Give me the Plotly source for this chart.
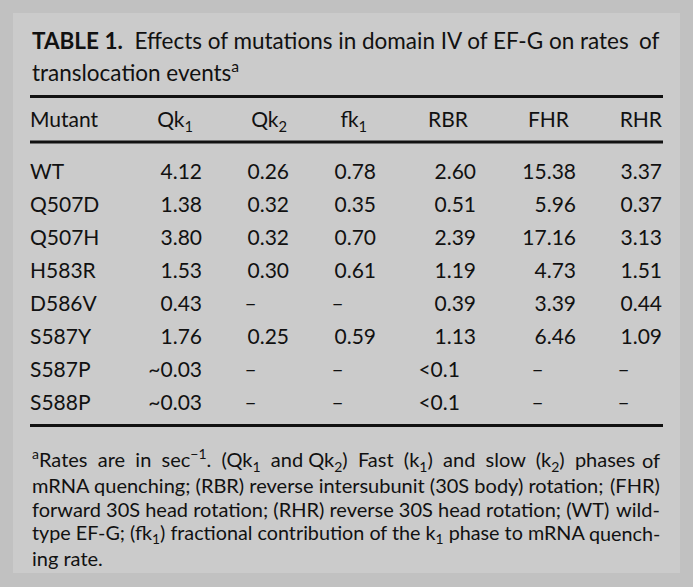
import plotly.graph_objects as go

# ---------------- data ----------------
mutants = ["WT", "Q507D", "Q507H", "H583R", "D586V", "S587Y", "S587P", "S588P"]
qk1 = ["4.12", "1.38", "3.80", "1.53", "0.43", "1.76", "~0.03", "~0.03"]
qk2 = ["0.26", "0.32", "0.32", "0.30", "–", "0.25", "–", "–"]
fk1 = ["0.78", "0.35", "0.70", "0.61", "–", "0.59", "–", "–"]
rbr = ["2.60", "0.51", "2.39", "1.19", "0.39", "1.13", "<0.1", "<0.1"]
fhr = ["15.38", "5.96", "17.16", "4.73", "3.39", "6.46", "–", "–"]
rhr = ["3.37", "0.37", "3.13", "1.51", "0.44", "1.09", "–", "–"]
headers = ["Mutant", "Qk<sub>1</sub>", "Qk<sub>2</sub>", "fk<sub>1</sub>", "RBR", "FHR", "RHR"]

title_bold = "TABLE 1."
title_lines = [
    "Effects of mutations in domain IV of EF-G on rates of",
    "translocation events<sup>a</sup>",
]
footnote_lines = [
    "<sup>a</sup>Rates are in sec<sup>−1</sup>. (Qk<sub>1</sub> and Qk<sub>2</sub>) Fast (k<sub>1</sub>) and slow (k<sub>2</sub>) phases of",
    "mRNA quenching; (RBR) reverse intersubunit (30S body) rotation; (FHR)",
    "forward 30S head rotation; (RHR) reverse 30S head rotation; (WT) wild-",
    "type EF-G; (fk<sub>1</sub>) fractional contribution of the k<sub>1</sub> phase to mRNA quench-",
    "ing rate.",
]

# ---------------- style / layout ----------------
W, H = 693, 587
FONT = "Lato, 'Open Sans', sans-serif"
INK = "#111111"
OUTER = "#c1c1c1"
PANEL = "#cbcbcb"
NB = "\u00a0"
LEFT, RIGHT = 30, 662
FS = 21

# table geometry (pixels): first body row, row pitch, header row
ROW0, PITCH, HEAD_Y = 174, 32.9, 122
# column anchors (pixel x) and alignment for the body and for the header
col_x = [30, 202, 289, 376, 476, 576, 662]
head_x = [30, 193, 287, 367, 468, 569, 662]
col_align = ["left", "right", "right", "right", "right", "right", "right"]


def px(x):
    return x / W


def py(y):
    return 1 - y / H


def decimal_pad(col):
    """right-aligned column: pad so decimal points line up; dashes sit left"""
    decs = [len(v.split(".")[1]) for v in col if "." in v]
    mx = max(decs) if decs else 0
    out = []
    for v in col:
        if "." in v:
            out.append(v + NB * 3 * (mx - len(v.split(".")[1])))
        else:
            out.append(v + NB * 6)
    return out


columns = [mutants, qk1, qk2, fk1, rbr, fhr, rhr]
rows = list(range(len(mutants)))
head_row = (HEAD_Y - ROW0) / PITCH

fig = go.Figure()
for j, col in enumerate(columns):
    texts = col if j == 0 else decimal_pad(col)
    pos = "middle right" if col_align[j] == "left" else "middle left"
    fig.add_trace(go.Scatter(
        x=[col_x[j]] * len(col), y=rows, text=texts, mode="text",
        textposition=pos, textfont=dict(family=FONT, size=FS, color=INK),
        hoverinfo="skip", cliponaxis=False, showlegend=False,
    ))
    fig.add_trace(go.Scatter(
        x=[head_x[j]], y=[head_row], text=[headers[j]], mode="text",
        textposition=pos, textfont=dict(family=FONT, size=FS, color=INK),
        hoverinfo="skip", cliponaxis=False, showlegend=False,
    ))

shapes = [
    dict(type="rect", xref="paper", yref="paper", x0=px(13), x1=px(680), y0=py(573), y1=py(13),
         fillcolor=PANEL, line=dict(width=0), layer="below"),
]
for ry in [96.5, 142, 425.5]:
    shapes.append(dict(type="rect", xref="paper", yref="paper", x0=px(LEFT), x1=px(RIGHT + 1),
                       y0=py(ry + 1.5), y1=py(ry - 1.5),
                       fillcolor=INK, line=dict(width=0), layer="below"))

annotations = []


def add(parts, size):
    for p in parts:
        p.update(xref="paper", yref="paper", yanchor="middle", showarrow=False,
                 font=dict(family=FONT, size=size, color=INK))
        annotations.append(p)


def justified(text, y, extra=None):
    """justify a line: left part anchored at LEFT, last word anchored at RIGHT;
    extra[i] = number of additional no-break spaces in gap i of the left part"""
    words = text.split(" ")
    head, last = words[:-1], words[-1]
    s = head[0]
    for i, w in enumerate(head[1:]):
        s += " " + (NB * extra[i] if extra else "") + w
    return [
        dict(text=s, x=px(LEFT), y=py(y), xanchor="left"),
        dict(text=last, x=px(RIGHT), y=py(y), xanchor="right"),
    ]


add(justified("<b>" + title_bold + "</b> " + title_lines[0], 41,
              extra=[0, 1, 0, 0, 0, 0, 0, 0, 0, 0, 0]), 22.5)
add([dict(text=title_lines[1], x=px(LEFT), y=py(71), xanchor="left")], 22.5)

foot_extra = [[1, 1, 1, 1, 1, 0, 1, 1, 1, 1, 1, 1], None, None, None]
foot_size = [20, 20, 20, 19.75, 20]
for i, t in enumerate(footnote_lines):
    y = 460 + 24.5 * i
    if i < len(footnote_lines) - 1:
        add(justified(t, y, foot_extra[i]), foot_size[i])
    else:
        add([dict(text=t, x=px(LEFT), y=py(y), xanchor="left")], foot_size[i])

fig.update_layout(
    width=W, height=H,
    margin=dict(l=0, r=0, t=0, b=0),
    paper_bgcolor=OUTER, plot_bgcolor="rgba(0,0,0,0)",
    xaxis=dict(range=[0, W], visible=False, fixedrange=True),
    yaxis=dict(range=[(H - ROW0) / PITCH, -ROW0 / PITCH], visible=False, fixedrange=True),
    shapes=shapes, annotations=annotations,
    showlegend=False,
)

fig.write_html("out.html", config={"displayModeBar": False},
               post_script="document.body.style.margin='0';")
